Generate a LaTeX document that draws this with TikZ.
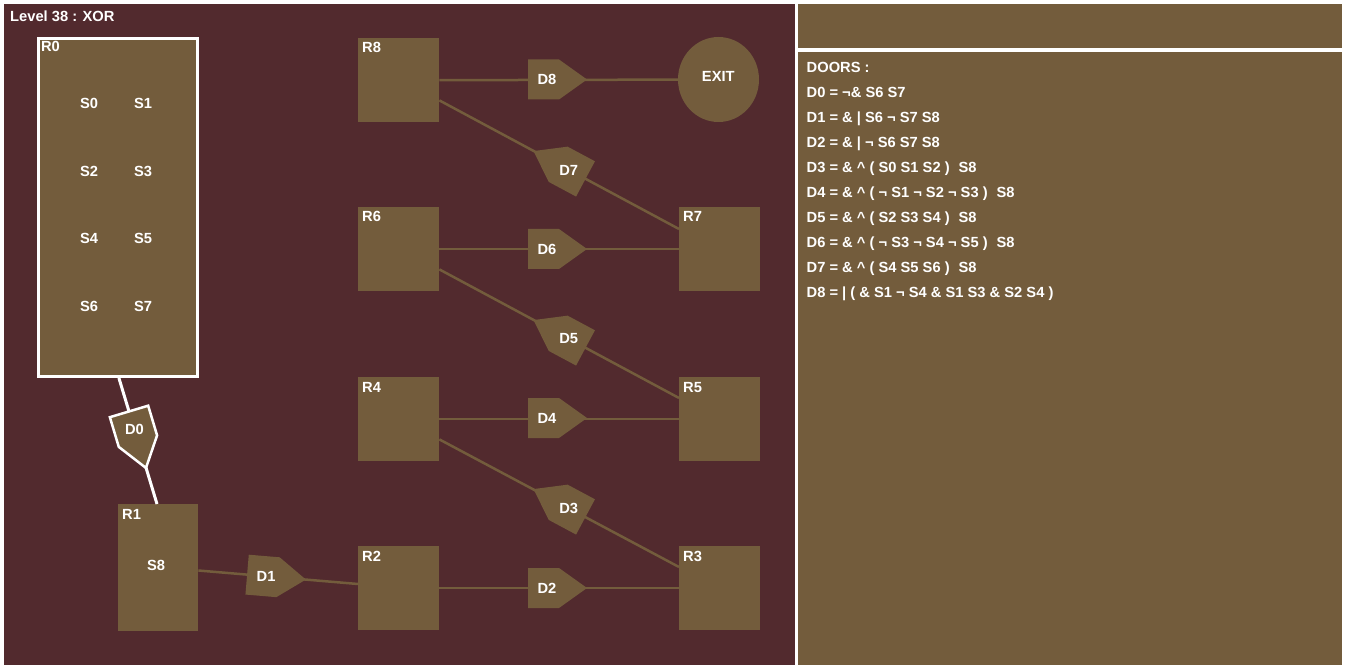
\documentclass[tikz,border=0pt]{standalone}
\usepackage{fontspec}
\setmainfont{Liberation Sans}
\usetikzlibrary{calc,shapes.geometric}
\definecolor{wall}{RGB}{82,42,46}
\definecolor{floor}{RGB}{115,92,60}
\newcommand\widegap{\hspace{9pt}}
\newcommand\notop{¬}
\newcommand\xorop{\textasciicircum}

\begin{document}
\begin{tikzpicture}[x=1pt,y=-1pt,
  font=\fontsize{14.7}{16}\selectfont\bfseries,
  txt/.style={text=white, inner sep=0pt},
  line/.style={txt, anchor=base west},
  roomlabel/.style={txt, anchor=base west},
  room/.style={fill=floor, inner sep=0pt, anchor=north west,
               minimum width=81pt, minimum height=84pt},
  wire/.style={draw=floor, line width=2.5pt},
  whitewire/.style={draw=white, line width=3pt},
  door/.pic={
    \path[fill=floor, pic actions] (-29.5,-20) -- (1.5,-20) -- (29.5,0)
          -- (1.5,20) -- (-29.5,20) -- cycle;
    \node[txt] (-lbl) at (-10.5,0) {#1};
  }]

% panels
\fill[white] (0,0) rectangle (1346,668);
\useasboundingbox (0,0) rectangle (1346,668);
\fill[wall] (4,4) rectangle (794.7,665);
\fill[floor] (798,4) rectangle (1342,48.3);
\fill[floor] (798,51.7) rectangle (1342,665);

\node[txt, anchor=base west] (title) at (10,21.7) {Level 38 : XOR};

% rooms
\node[room, draw=white, line width=3pt, anchor=center,
      minimum width=159.2pt, minimum height=338.2pt] (r0) at (117.9,207.4) {};
\node[room, minimum width=80pt, minimum height=127pt] (r1) at (118,504) {};
\node[room] (r2) at (358,546) {};
\node[room] (r3) at (679,546) {};
\node[room] (r4) at (358,377) {};
\node[room] (r5) at (679,377) {};
\node[room] (r6) at (358,207) {};
\node[room] (r7) at (679,207) {};
\node[room] (r8) at (358,38) {};
\node[ellipse, fill=floor, inner sep=0pt, minimum width=81pt,
      minimum height=85pt] (exit) at (718.5,79.5) {};

\foreach \r/\t in {r0/R0, r1/R1, r2/R2, r3/R3, r4/R4, r5/R5, r6/R6, r7/R7, r8/R8}
  \node[roomlabel] (\r-name) at ($(\r.north west)+(4,15)$) {\t};
\node[txt] (exit-name) at (718.3,76.5) {EXIT};

% switches
\node[txt] (s0) at (89,103.5) {S0};
\node[txt] (s1) at (143,103.5) {S1};
\node[txt] (s2) at (89,171.2) {S2};
\node[txt] (s3) at (143,171.2) {S3};
\node[txt] (s4) at (89,238.9) {S4};
\node[txt] (s5) at (143,238.9) {S5};
\node[txt] (s6) at (89,306.6) {S6};
\node[txt] (s7) at (143,306.6) {S7};
\node[txt] (s8) at (156,565) {S8};

% corridors
\draw[whitewire] ($(r0.south)+(1,0)$) -- ($(r1.north west)+(39,0)$);
\draw[wire] ($(r1.north east)+(0,66.5)$) -- ($(r2.north west)+(0,38)$);
\draw[wire] (r2.east) -- (r3.west);
\draw[wire] ($(r4.south east)+(0,-22)$) -- ($(r3.north west)+(0,21)$);
\draw[wire] (r4.east) -- (r5.west);
\draw[wire] ($(r6.south east)+(0,-22)$) -- ($(r5.north west)+(0,21)$);
\draw[wire] (r6.east) -- (r7.west);
\draw[wire] ($(r8.south east)+(0,-22)$) -- ($(r7.north west)+(0,22)$);
\draw[wire] (r8.east) -- (exit);

% doors
\pic[draw=white, line width=2.5pt, rotate=-73.3] (d0) at (137.5,439.7) {door=D0};
\pic[rotate=-4.8] (d1) at (276.5,577.1) {door=D1};
\pic (d2) at (557.5,588) {door=D2};
\pic[rotate=151.84] (d3) at (559.5,503) {door=D3};
\pic (d4) at (557.5,418) {door=D4};
\pic[rotate=151.84] (d5) at (559.5,334) {door=D5};
\pic (d6) at (557.5,249) {door=D6};
\pic[rotate=151.84] (d7) at (559.5,165) {door=D7};
\pic (d8) at (557.5,79.5) {door=D8};

% door conditions
\node[line] (doors) at (806.5,72.5) {DOORS :};
\node[line] (c0) at (806.5,97.5)  {D0 = \notop\& S6 S7};
\node[line] (c1) at (806.5,122.5) {D1 = \& | S6 \notop{} S7 S8};
\node[line] (c2) at (806.5,147.5) {D2 = \& | \notop{} S6 S7 S8};
\node[line] (c3) at (806.5,172.5) {D3 = \& \xorop{} ( S0 S1 S2 )\widegap S8};
\node[line] (c4) at (806.5,197.5) {D4 = \& \xorop{} ( \notop{} S1 \notop{} S2 \notop{} S3 )\widegap S8};
\node[line] (c5) at (806.5,222.5) {D5 = \& \xorop{} ( S2 S3 S4 )\widegap S8};
\node[line] (c6) at (806.5,247.5) {D6 = \& \xorop{} ( \notop{} S3 \notop{} S4 \notop{} S5 )\widegap S8};
\node[line] (c7) at (806.5,272.5) {D7 = \& \xorop{} ( S4 S5 S6 )\widegap S8};
\node[line] (c8) at (806.5,297.5) {D8 = | ( \& S1 \notop{} S4 \& S1 S3 \& S2 S4 )};
\end{tikzpicture}
\end{document}
